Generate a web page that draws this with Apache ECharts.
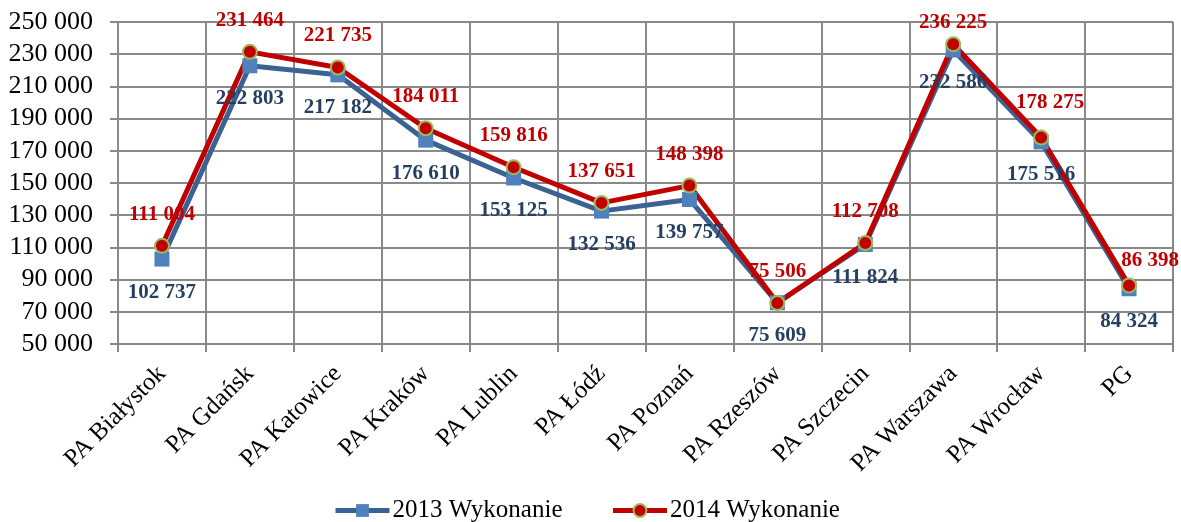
<!DOCTYPE html>
<html>
<head>
<meta charset="utf-8">
<script src="https://cdn.jsdelivr.net/npm/echarts@6/dist/echarts.min.js"></script>
<style>
  html, body { margin: 0; padding: 0; background: #fff; }
  #chart { width: 1181px; height: 522px; }
</style>
</head>
<body>
<div id="chart"></div>
<script>
const categories = ['PA Białystok', 'PA Gdańsk', 'PA Katowice', 'PA Kraków', 'PA Lublin', 'PA Łódź',
  'PA Poznań', 'PA Rzeszów', 'PA Szczecin', 'PA Warszawa', 'PA Wrocław', 'PG']
const values2013 = [102737, 222803, 217182, 176610, 153125, 132536, 139757, 75609, 111824, 232586, 175516, 84324]
const values2014 = [111004, 231464, 221735, 184011, 159816, 137651, 148398, 75506, 112708, 236225, 178275, 86398]
const seriesNames = ['2013 Wykonanie', '2014 Wykonanie']

// small label nudges (px) where the original moved a label off its default spot
const nudge2014 = { 9: [0, 10], 10: [9, -3], 11: [21, 7] }

const fontSerif = '"Liberation Serif", "Times New Roman", serif'
const fmt = (v) => String(v).replace(/\B(?=(\d{3})+(?!\d))/g, ' ')

const chart = echarts.init(document.getElementById('chart'))

const data2014 = values2014.map((v, i) => {
  if (!nudge2014[i]) return v
  return { value: v, label: { offset: nudge2014[i] } }
})

chart.setOption({
  animation: false,
  grid: { left: 118, right: 8, top: 22, bottom: 178 },
  legend: {
    data: seriesNames,
    top: 493,
    left: 328,
    itemWidth: 54,
    itemHeight: 16,
    itemGap: 48,
    lineStyle: { width: 5 },
    textStyle: { fontFamily: fontSerif, fontSize: 25, color: '#000', padding: [0, 0, 0, -2] },
  },
  xAxis: {
    type: 'category',
    data: categories,
    boundaryGap: true,
    axisLine: { lineStyle: { color: '#898989', width: 2 } },
    axisTick: { show: true, length: 8, lineStyle: { color: '#898989', width: 2 } },
    splitLine: { show: true, lineStyle: { color: '#898989', width: 2 } },
    axisLabel: {
      rotate: 45,
      margin: 26,
      interval: 0,
      fontFamily: fontSerif,
      fontSize: 25,
      color: '#000',
    },
  },
  yAxis: {
    type: 'value',
    min: 50000,
    max: 250000,
    interval: 20000,
    axisLine: { show: true, lineStyle: { color: '#898989', width: 2 } },
    axisTick: { show: true, length: 8, lineStyle: { color: '#898989', width: 2 } },
    splitLine: { show: true, lineStyle: { color: '#898989', width: 2 } },
    axisLabel: {
      margin: 25,
      fontFamily: fontSerif,
      fontSize: 26,
      color: '#000',
      formatter: fmt,
    },
  },
  series: [
    {
      name: seriesNames[0],
      type: 'line',
      data: values2013,
      symbol: 'rect',
      symbolSize: 15,
      lineStyle: { color: '#3A6394', width: 5 },
      itemStyle: { color: '#4F81BD' },
      label: {
        show: true,
        position: 'bottom',
        distance: 15,
        fontFamily: fontSerif,
        fontSize: 21,
        fontWeight: 'bold',
        color: '#243F60',
        formatter: (p) => fmt(p.value),
      },
    },
    {
      name: seriesNames[1],
      type: 'line',
      data: data2014,
      symbol: 'circle',
      symbolSize: 14,
      lineStyle: { color: '#C00000', width: 5 },
      itemStyle: { color: '#C00000', borderColor: '#9BBB59', borderWidth: 2 },
      label: {
        show: true,
        position: 'top',
        distance: 13,
        fontFamily: fontSerif,
        fontSize: 21,
        fontWeight: 'bold',
        color: '#C00000',
        formatter: (p) => fmt(p.value),
      },
    },
  ],
})

window.addEventListener('resize', () => chart.resize())
</script>
</body>
</html>
